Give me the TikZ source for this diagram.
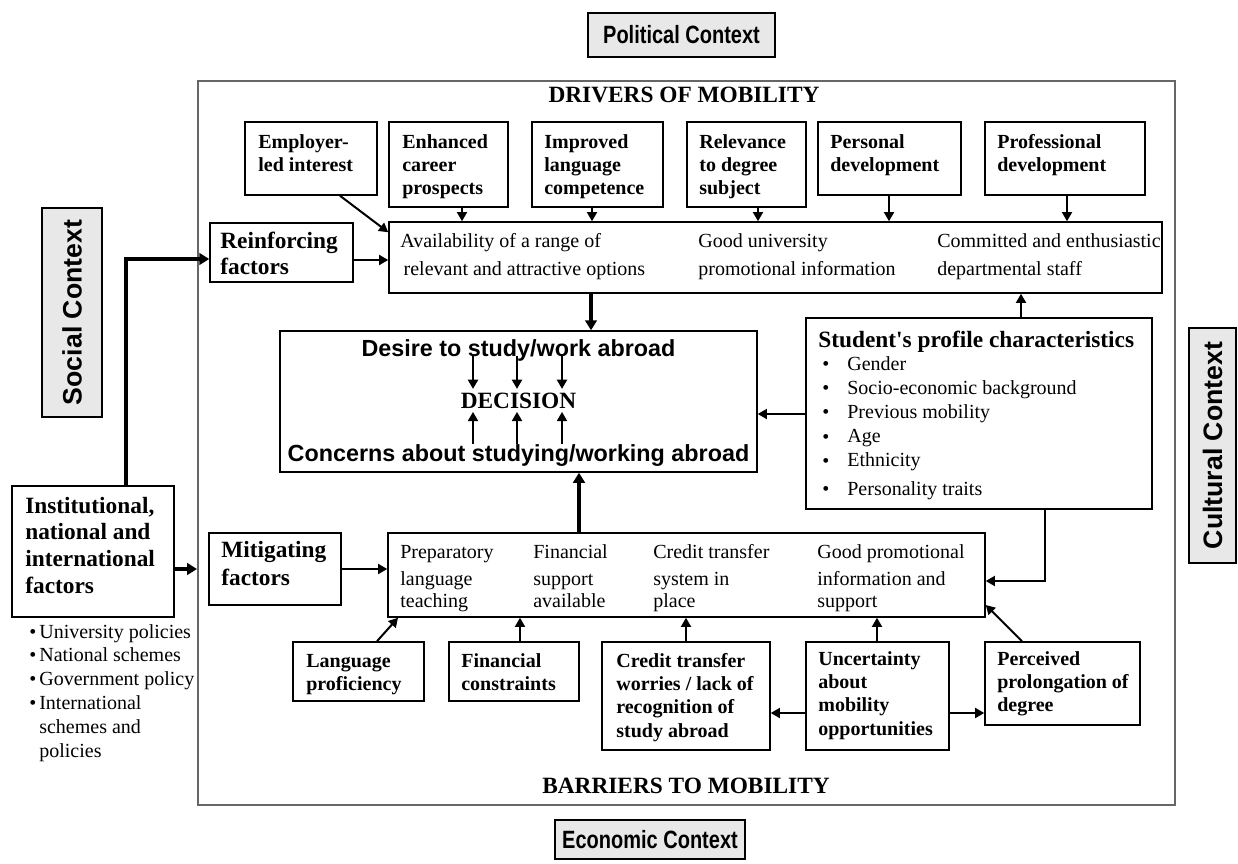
\documentclass[tikz,border=0pt]{standalone}
\usepackage{fontspec}
\setmainfont{Liberation Serif}
\newfontfamily\arialfont{Liberation Sans}
\usetikzlibrary{arrows.meta,fit,calc}
\newcommand\mylines[1]{\begin{tabular}[t]{@{}l@{}}#1\end{tabular}}
\newcommand\bul{\makebox[15pt][l]{\raisebox{-0.3pt}{\large\textbullet}}}
\newcommand\sbul{\makebox[6pt][l]{\textbullet}}
\begin{document}
\begin{tikzpicture}[x=0.6pt,y=-0.6pt,
  box/.style={draw, line width=0.9pt, inner sep=0pt},
  ctx/.style={draw, line width=0.9pt, inner sep=0pt, fill=black!9},
  frm/.style={draw=black!60, line width=1.2pt, inner sep=0pt},
  lbl/.style={inner sep=0pt, anchor=base west, font=\fontsize{12}{14}\selectfont\bfseries},
  plain/.style={inner sep=0pt, anchor=base west, font=\fontsize{12}{16.8}\selectfont},
  plainm/.style={inner sep=0pt, anchor=base west, font=\fontsize{12}{13.2}\selectfont},
  big/.style={inner sep=0pt, anchor=base west, font=\fontsize{14}{16}\selectfont\bfseries},
  ctxt/.style={inner sep=0pt, font=\arialfont\fontsize{16}{19}\selectfont\bfseries},
  hctxt/.style={inner sep=0pt, xscale=0.8, font=\arialfont\fontsize{15}{18}\selectfont\bfseries},
  atxt/.style={inner sep=0pt, anchor=base, font=\arialfont\fontsize{14}{16}\selectfont\bfseries},
  arr/.style={line width=1.2pt, -{Triangle[length=5.5pt,width=6pt]}},
  tarr/.style={line width=2.6pt, -{Triangle[length=6pt,width=7pt]}},
]
\useasboundingbox (0,0) rectangle (1238,863);

% context boxes
\node[ctx, fit={(588,13) (775,57)}] (polbox) {};
\node[hctxt] (pol) at (polbox.center) {Political Context};
\node[ctx, fit={(555,820) (745,859)}] (ecobox) {};
\node[hctxt] (eco) at (ecobox.center) {Economic Context};
\node[ctx, fit={(42,208) (102,417)}] (socbox) {};
\node[ctxt, rotate=90] (soc) at (socbox.center) {Social Context};
\node[ctx, fit={(1189,328) (1236,563)}] (culbox) {};
\node[ctxt, rotate=90] (cul) at (culbox.center) {Cultural Context};

% main frame
\node[frm, fit={(198,81) (1175,805)}] (frame) {};
\node[big, anchor=base] (drv) at (684,102) {DRIVERS OF MOBILITY};
\node[big, anchor=base] (bar) at (686,793) {BARRIERS TO MOBILITY};

% drivers
\node[box, fit={(245,122) (377,195)}] (emp) {};
\node[lbl] (empt) at (258,148) {\mylines{Employer-\\led interest}};
\node[box, fit={(389,122) (508,207)}] (enh) {};
\node[lbl] (enht) at (402,148) {\mylines{Enhanced\\career\\prospects}};
\node[box, fit={(532,122) (663,207)}] (imp) {};
\node[lbl] (impt) at (544,148) {\mylines{Improved\\language\\competence}};
\node[box, fit={(687,122) (806,207)}] (rel) {};
\node[lbl] (relt) at (699,148) {\mylines{Relevance\\to degree\\subject}};
\node[box, fit={(818,122) (961,195)}] (per) {};
\node[lbl] (pert) at (830,148) {\mylines{Personal\\development}};
\node[box, fit={(985,122) (1145,195)}] (pro) {};
\node[lbl] (prot) at (997,148) {\mylines{Professional\\development}};

% reinforcing
\node[box, fit={(210,223) (353,282)}] (rf) {};
\node[big] (rft) at (220,248) {\mylines{Reinforcing\\factors}};
\node[box, fit={(389,222) (1162,293)}] (rein) {};
\node[plain] (r1) at (400,247) {\mylines{Availability of a range of\\\hspace*{2pt}relevant and attractive options}};
\node[plain] (r2) at (698,247) {\mylines{Good university\\promotional information}};
\node[plain] (r3) at (937,247) {\mylines{Committed and enthusiastic\\departmental staff}};

% decision
\node[box, fit={(280,331) (757,472)}] (decb) {};
\node[atxt] (desire) at (518.5,356) {Desire to study/work abroad};
\node[inner sep=2pt, anchor=base, font=\fontsize{14}{16}\selectfont\bfseries] (dec) at (518.5,408) {DECISION};
\node[atxt] (concern) at (518.5,461) {Concerns about studying/working abroad};

% student
\node[box, fit={(806,318) (1152,509)}] (stu) {};
\node[big] (stut) at (818,347) {Student\textquotesingle s profile characteristics};
\node[inner sep=0pt, anchor=base west, font=\fontsize{12}{14.5}\selectfont] (stul) at (822,370) {\mylines{\bul Gender\\\bul Socio-economic background\\\bul Previous mobility\\\bul Age\\\bul Ethnicity\\[2.5pt]\bul Personality traits}};

% institutional
\node[box, fit={(12,486) (174,617)}] (inst) {};
\node[big] (instt) at (25,513) {\mylines{Institutional,\\national and\\international\\factors}};
\node[inner sep=0pt, anchor=base west, font=\fontsize{12}{14.3}\selectfont] (instl) at (29,638) {\mylines{\sbul University policies\\\sbul National schemes\\\sbul Government policy\\\sbul International\\\hspace*{6pt}schemes and\\\hspace*{6pt}policies}};

% mitigating
\node[box, fit={(209,533) (341,605)}] (mf) {};
\node[big] (mft) at (221,557) {\mylines{Mitigating\\[0.8pt]factors}};
\node[box, fit={(388,533) (985,617)}] (mit) {};
\node[plainm] (m1) at (400,558) {\mylines{Preparatory\\[3pt]language\\teaching}};
\node[plainm] (m2) at (533,558) {\mylines{Financial\\[3pt]support\\available}};
\node[plainm] (m3) at (653,558) {\mylines{Credit transfer\\[3pt]system in\\place}};
\node[plainm] (m4) at (817,558) {\mylines{Good promotional\\[3pt]information and\\support}};

% barriers
\node[box, fit={(293,642) (424,701)}] (lang) {};
\node[lbl] (langt) at (306,667) {\mylines{Language\\proficiency}};
\node[box, fit={(449,642) (579,701)}] (fin) {};
\node[lbl] (fint) at (461,667) {\mylines{Financial\\constraints}};
\node[box, fit={(602,642) (770,750)}] (cred) {};
\node[lbl] (credt) at (616,667) {\mylines{Credit transfer\\worries / lack of\\recognition of\\study abroad}};
\node[box, fit={(806,642) (949,750)}] (unc) {};
\node[lbl] (unct) at (818,665) {\mylines{Uncertainty\\about\\mobility\\opportunities}};
\node[box, fit={(985,642) (1140,725)}] (perc) {};
\node[lbl] (perct) at (997,665) {\mylines{Perceived\\prolongation of\\degree}};

% connectors
\draw[arr] (340,0 |- emp.south) -- ($(rein.north west)+(0,11)$);
\foreach \x/\nm in {462/enh,592/imp,758/rel,889/per,1067/pro}
  \draw[arr] (\x,0 |- \nm.south) -- (\x,0 |- rein.north);
\draw[arr] (rf.east |- 0,260) -- (rein.west |- 0,260);
\draw[tarr] (126,0 |- inst.north) |- (rf.west |- 0,259);
\draw[tarr] (inst.east |- 0,569) -- (frame.west |- 0,569);
\draw[tarr] (591,0 |- rein.south) -- (591,0 |- decb.north);
\foreach \x in {473,517,562} {
  \draw[arr] (\x,0 |- desire.base) -- (\x,0 |- dec.north);
  \draw[arr] (\x,0 |- concern.north) -- (\x,0 |- dec.south);
}
\draw[arr] (stu.west |- 0,414) -- (decb.east |- 0,414);
\draw[arr] (1021,0 |- stu.north) -- (1021,0 |- rein.south);
\draw[arr] (1045,0 |- stu.south) |- (mit.east |- 0,581);
\draw[arr] (mf.east |- 0,569) -- (mit.west |- 0,569);
\draw[tarr] (579,0 |- mit.north) -- (579,0 |- decb.south);
\draw[arr] (377,0 |- lang.north) -- (398,0 |- mit.south);
\draw[arr] (520,0 |- fin.north) -- (520,0 |- mit.south);
\draw[arr] (686,0 |- cred.north) -- (686,0 |- mit.south);
\draw[arr] (877,0 |- unc.north) -- (877,0 |- mit.south);
\draw[arr] (1022,0 |- perc.north) -- (mit.east |- 0,605);
\draw[arr] (unc.west |- 0,713) -- (cred.east |- 0,713);
\draw[arr] (unc.east |- 0,713) -- (perc.west |- 0,713);
\end{tikzpicture}
\end{document}
